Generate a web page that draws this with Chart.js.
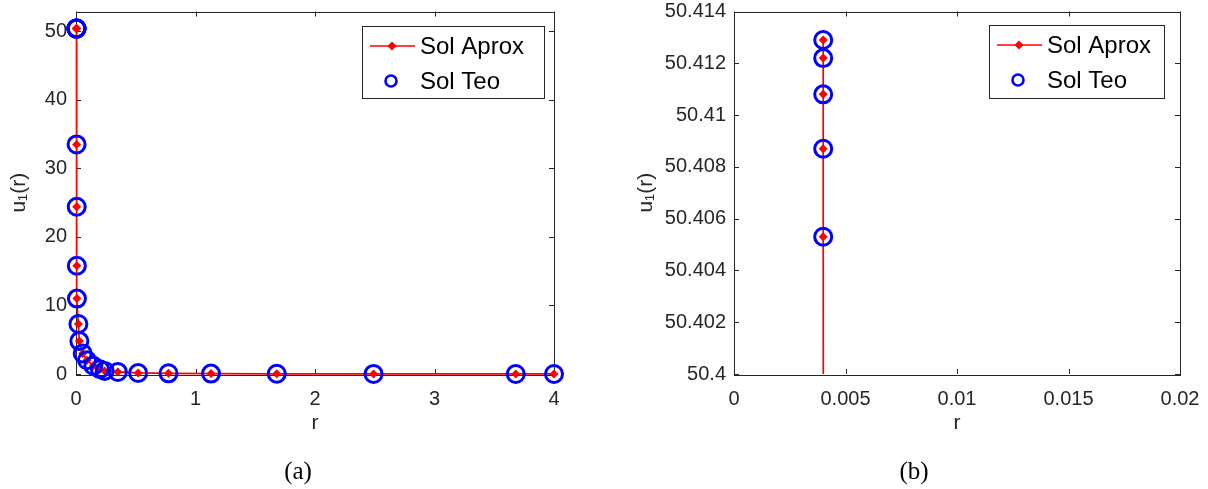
<!DOCTYPE html>
<html>
<head>
<meta charset="utf-8">
<script src="https://cdn.jsdelivr.net/npm/chart.js@4.4.1/dist/chart.umd.min.js"></script>
<style>
  html, body { margin: 0; padding: 0; background: #fff; }
  #wrap { position: relative; width: 1208px; height: 489px; overflow: hidden; }
  .panel { position: absolute; top: 0; width: 604px; height: 489px; }
  .cap { position: absolute; font-family: 'Liberation Serif', serif; font-size: 25px; color: #000;
         transform: translate(-50%, -50%); white-space: nowrap; }
</style>
</head>
<body>
<div id="wrap">
  <div class="panel" style="left:0"><canvas id="chartA" width="604" height="489"></canvas></div>
  <div class="panel" style="left:604px"><canvas id="chartB" width="604" height="489"></canvas></div>
  <div class="cap" style="left:298px; top:471px">(a)</div>
  <div class="cap" style="left:914px; top:471px">(b)</div>
</div>
<script>
// r values and the two solutions (same points in both panels, panel b is a zoom)
const rVals = [0.004, 0.004, 0.004, 0.004, 0.004, 0.005, 0.006, 0.007, 0.008, 0.02, 0.028,
  0.056, 0.092, 0.145, 0.2, 0.24, 0.35, 0.52, 0.774, 1.13, 1.68, 2.49, 3.68, 4.0];
const uAprox = [50.4129, 50.4122, 50.4108, 50.4087, 50.4053, 33.5, 24.4, 15.8, 11.0, 7.3, 4.8,
  3.0, 2.0, 1.2, 0.7, 0.45, 0.3, 0.15, 0.1, 0.06, 0.03, 0.01, 0.005, 0.004];
const uTeo = [50.4129, 50.4122, 50.4108, 50.4087, 50.4053, 33.5, 24.4, 15.8, 11.0, 7.3, 4.8,
  3.0, 2.0, 1.2, 0.7, 0.45, 0.3, 0.15, 0.1, 0.06, 0.03, 0.01, 0.005, 0.004];

const xTicksA = [0, 1, 2, 3, 4];
const xLabelsA = ['0', '1', '2', '3', '4'];
const yTicksA = [0, 10, 20, 30, 40, 50];
const yLabelsA = ['0', '10', '20', '30', '40', '50'];
const xTicksB = [0, 0.005, 0.01, 0.015, 0.02];
const xLabelsB = ['0', '0.005', '0.01', '0.015', '0.02'];
const yTicksB = [50.4, 50.402, 50.404, 50.406, 50.408, 50.41, 50.412, 50.414];
const yLabelsB = ['50.4', '50.402', '50.404', '50.406', '50.408', '50.41', '50.412', '50.414'];

const FONT = 'Liberation Sans';
const AXIS = '#262626';

// MATLAB style box with inward ticks on all four sides
const boxPlugin = {
  id: 'matBox',
  beforeDatasetsDraw(chart) {
    const { ctx, chartArea: a, scales: { x, y } } = chart;
    ctx.save();
    ctx.strokeStyle = AXIS;
    ctx.lineWidth = 1;
    ctx.strokeRect(Math.round(a.left) + 0.5, Math.round(a.top) + 0.5,
      Math.round(a.right - a.left), Math.round(a.bottom - a.top));
    const tl = 5;
    ctx.beginPath();
    x.ticks.forEach(t => {
      const px = Math.round(x.getPixelForValue(t.value)) + 0.5;
      ctx.moveTo(px, a.bottom); ctx.lineTo(px, a.bottom - tl);
      ctx.moveTo(px, a.top); ctx.lineTo(px, a.top + tl);
    });
    y.ticks.forEach(t => {
      const py = Math.round(y.getPixelForValue(t.value)) + 0.5;
      ctx.moveTo(a.left, py); ctx.lineTo(a.left + tl, py);
      ctx.moveTo(a.right, py); ctx.lineTo(a.right - tl, py);
    });
    ctx.stroke();
    ctx.restore();
  }
};

const legendPlugin = {
  id: 'matLegend',
  afterDraw(chart, args, o) {
    const ctx = chart.ctx;
    const ds = chart.data.datasets;
    ctx.save();
    ctx.fillStyle = '#fff';
    ctx.fillRect(o.x, o.y, o.w, o.h);
    ctx.strokeStyle = AXIS;
    ctx.lineWidth = 1;
    ctx.strokeRect(o.x + 0.5, o.y + 0.5, o.w, o.h);
    const row1 = o.y + 20, row2 = o.y + 55;
    // line + diamond
    ctx.strokeStyle = ds[0].borderColor;
    ctx.lineWidth = ds[0].borderWidth;
    ctx.beginPath();
    ctx.moveTo(o.x + 8, row1); ctx.lineTo(o.x + 53, row1);
    ctx.stroke();
    const d = 4.5, cx = o.x + 30;
    ctx.fillStyle = ds[0].pointBackgroundColor;
    ctx.beginPath();
    ctx.moveTo(cx, row1 - d); ctx.lineTo(cx + d, row1); ctx.lineTo(cx, row1 + d); ctx.lineTo(cx - d, row1);
    ctx.closePath();
    ctx.fill();
    // circle
    ctx.strokeStyle = ds[1].pointBorderColor;
    ctx.lineWidth = 2.6;
    ctx.beginPath();
    ctx.arc(o.x + 29, row2, 5.5, 0, Math.PI * 2);
    ctx.stroke();
    ctx.fillStyle = '#000';
    ctx.font = '24px "' + FONT + '"';
    ctx.textBaseline = 'middle';
    ctx.fillText(ds[0].label, o.x + 58, row1 + 1);
    ctx.fillText(ds[1].label, o.x + 58, row2 + 1);
    ctx.restore();
  }
};

function makeChart(id, cfg) {
  const pts = (u) => rVals.map((r, i) => ({ x: r, y: u[i] }));
  const tickFont = { family: FONT, size: 20 };
  const titleFont = { family: FONT, size: 21 };
  return new Chart(document.getElementById(id), {
    type: 'scatter',
    data: {
      datasets: [
        {
          label: 'Sol Aprox',
          data: pts(uAprox),
          showLine: true,
          borderColor: '#ff0000',
          borderWidth: 1.7,
          pointStyle: 'rectRot',
          pointRadius: 4.5,
          pointBackgroundColor: '#ff0000',
          pointBorderColor: '#ff0000',
          pointBorderWidth: 0,
          order: 2,
          clip: cfg.clip
        },
        {
          label: 'Sol Teo',
          data: pts(uTeo),
          showLine: false,
          pointStyle: 'circle',
          pointRadius: 8.5,
          pointBorderColor: '#0000ff',
          pointBorderWidth: 3,
          pointBackgroundColor: 'rgba(0,0,0,0)',
          order: 1,
          clip: cfg.clip
        }
      ]
    },
    options: {
      responsive: false,
      animation: false,
      events: [],
      layout: { padding: cfg.padding },
      plugins: {
        legend: { display: false },
        tooltip: { enabled: false },
        matLegend: cfg.legend
      },
      scales: {
        x: {
          type: 'linear',
          min: cfg.xMin, max: cfg.xMax,
          afterBuildTicks: s => { s.ticks = cfg.xTicks.map(v => ({ value: v })); },
          afterFit: s => { s.height = 62; s.paddingLeft = 0; s.paddingRight = 0; },
          grid: { display: false, drawTicks: false },
          border: { display: false },
          ticks: {
            color: AXIS, font: tickFont, padding: 13, maxRotation: 0, autoSkip: false,
            callback: (v, i) => cfg.xLabels[i]
          },
          title: { display: true, text: 'r', color: AXIS, font: titleFont, padding: { top: 0, bottom: 0 } }
        },
        y: {
          type: 'linear',
          min: cfg.yMin, max: cfg.yMax,
          afterBuildTicks: s => { s.ticks = cfg.yTicks.map(v => ({ value: v })); },
          afterFit: s => { s.width = cfg.yWidth; s.paddingTop = 0; s.paddingBottom = 0; },
          grid: { display: false, drawTicks: false },
          border: { display: false },
          ticks: {
            color: AXIS, font: tickFont, padding: cfg.yPad, autoSkip: false,
            callback: (v, i) => cfg.yLabels[i]
          },
          title: { display: true, text: 'u\u2081(r)', color: AXIS, font: titleFont,
                   padding: { top: cfg.yTitlePad, bottom: 0 } }
        }
      }
    },
    plugins: [boxPlugin, legendPlugin]
  });
}

makeChart('chartA', {
  xMin: 0, xMax: 4, yMin: 0, yMax: 52.9,
  xTicks: xTicksA, xLabels: xLabelsA, yTicks: yTicksA, yLabels: yLabelsA,
  yWidth: 76, yPad: 9, yTitlePad: 7,
  padding: { left: 0, right: 50, top: 10, bottom: 53 },
  clip: 14,
  legend: { x: 362, y: 26, w: 182, h: 72 }
});

makeChart('chartB', {
  xMin: 0, xMax: 0.02, yMin: 50.4, yMax: 50.414,
  xTicks: xTicksB, xLabels: xLabelsB, yTicks: yTicksB, yLabels: yLabelsB,
  yWidth: 130, yPad: 8, yTitlePad: 30,
  padding: { left: 0, right: 28, top: 10, bottom: 53 },
  clip: 0,
  legend: { x: 385, y: 25, w: 175, h: 73 }
});
</script>
</body>
</html>
